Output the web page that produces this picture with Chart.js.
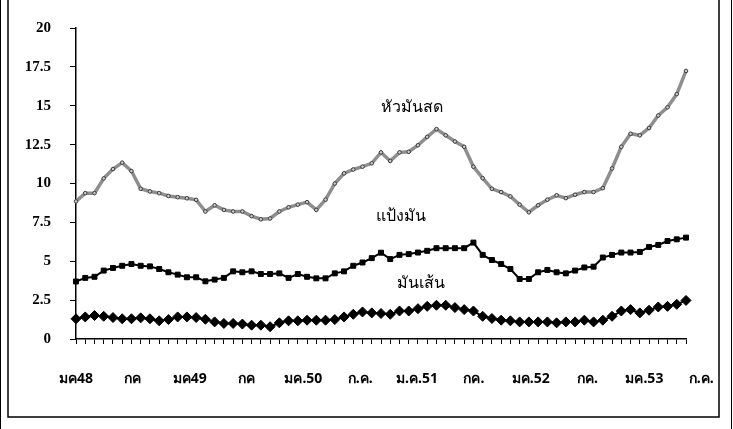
<!DOCTYPE html>
<html>
<head>
<meta charset="utf-8">
<script src="https://cdn.jsdelivr.net/npm/chart.js@4"></script>
<style>
  html, body { margin: 0; padding: 0; background: #fff; }
  #wrap { width: 733px; height: 429px; position: relative; }
</style>
</head>
<body>
<div id="wrap"><canvas id="cassava" width="733" height="429"></canvas></div>
<script>
// ราคามันสำปะหลัง รายเดือน มค48 - กค53
const thaiMonths = ['ม.ค.', 'ก.พ.', 'มี.ค.', 'เม.ย.', 'พ.ค.', 'มิ.ย.', 'ก.ค.', 'ส.ค.', 'ก.ย.', 'ต.ค.', 'พ.ย.', 'ธ.ค.'];
const years = ['48', '49', '50', '51', '52', '53'];
const months = years.flatMap(y => thaiMonths.map(m => m + y)).slice(0, 67);

const tickLabels = ['มค48', 'กค', 'มค49', 'กค', 'มค.50', 'ก.ค.', 'ม.ค.51', 'กค.', 'มค.52', 'กค.', 'มค.53', 'ก.ค.'];
const yTicks = ['0', '2.5', '5', '7.5', '10', '12.5', '15', '17.5', '20'];

const freshRoots = [
    8.85, 9.38, 9.38, 10.33, 10.93, 11.34, 10.8, 9.66, 9.49, 9.38,
    9.2, 9.12, 9.05, 8.95, 8.2, 8.6, 8.3, 8.2, 8.2, 7.9,
    7.7, 7.75, 8.2, 8.47, 8.64, 8.8, 8.3, 8.96, 10.0, 10.65,
    10.9, 11.08, 11.3, 12.0, 11.45, 12.0, 12.04, 12.46, 13.0, 13.5,
    13.1, 12.7, 12.36, 11.08, 10.34, 9.66, 9.45, 9.17, 8.64, 8.15,
    8.6, 8.96, 9.24, 9.06, 9.28, 9.45, 9.45, 9.7, 10.97, 12.36,
    13.2, 13.1, 13.57, 14.37, 14.9, 15.75, 17.24
];
const starch = [
    3.7, 3.93, 4.0, 4.4, 4.57, 4.71, 4.82, 4.71, 4.67, 4.5,
    4.29, 4.14, 3.97, 3.97, 3.71, 3.82, 3.93, 4.35, 4.29, 4.35,
    4.18, 4.18, 4.22, 3.93, 4.18, 4.0, 3.9, 3.9, 4.22, 4.35,
    4.71, 4.92, 5.2, 5.55, 5.14, 5.41, 5.46, 5.56, 5.67, 5.84,
    5.84, 5.84, 5.84, 6.2, 5.41, 5.08, 4.82, 4.5, 3.86, 3.86,
    4.29, 4.44, 4.29, 4.22, 4.4, 4.6, 4.65, 5.24, 5.41, 5.56,
    5.56, 5.6, 5.92, 6.05, 6.3, 6.41, 6.52
];
const chips = [
    1.3, 1.42, 1.51, 1.46, 1.38, 1.3, 1.3, 1.36, 1.3, 1.17,
    1.25, 1.42, 1.42, 1.38, 1.27, 1.1, 1.0, 1.0, 0.96, 0.89,
    0.89, 0.79, 1.04, 1.17, 1.17, 1.21, 1.21, 1.21, 1.25, 1.42,
    1.59, 1.74, 1.68, 1.64, 1.59, 1.8, 1.8, 1.95, 2.1, 2.17,
    2.17, 2.02, 1.89, 1.8, 1.46, 1.32, 1.21, 1.17, 1.1, 1.1,
    1.1, 1.1, 1.04, 1.1, 1.1, 1.21, 1.1, 1.21, 1.46, 1.8,
    1.89, 1.68, 1.85, 2.06, 2.1, 2.23, 2.48
];

// series name labels placed in data units (month index, value)
const seriesNames = ['หัวมันสด', 'แป้งมัน', 'มันเส้น'];
const namePos = [[36.3, 14.9], [35.2, 7.9], [37.3, 3.57]];
const labelStep = 6.15; // month labels were typed a bit wider than 6 months apart

const thaiFont = '"Noto Sans", "DejaVu Sans", sans-serif';
const serifFont = '"Liberation Serif", "DejaVu Serif", serif';

const seriesText = {
    id: 'seriesText',
    afterDatasetsDraw(chart) {
        const { ctx, scales } = chart;
        ctx.save();
        ctx.fillStyle = '#000';
        ctx.font = '16px ' + thaiFont;
        ctx.textAlign = 'center';
        ctx.textBaseline = 'middle';
        seriesNames.forEach((name, i) => {
            ctx.fillText(name, scales.x.getPixelForValue(namePos[i][0]), scales.y.getPixelForValue(namePos[i][1]));
        });
        ctx.restore();
    }
};

const frame = {
    id: 'frame',
    afterDraw(chart) {
        const ctx = chart.ctx;
        ctx.save();
        ctx.strokeStyle = '#000';
        ctx.lineWidth = 1.5;
        ctx.beginPath();
        ctx.moveTo(8, 0); ctx.lineTo(8, 417); ctx.lineTo(719, 417); ctx.lineTo(719, 0);
        ctx.stroke();
        ctx.lineWidth = 1;
        ctx.beginPath();
        ctx.moveTo(0.5, 0); ctx.lineTo(0.5, 429);
        ctx.moveTo(731.5, 0); ctx.lineTo(731.5, 429);
        ctx.stroke();
        ctx.restore();
    }
};

function noSidePadding(scale) {
    scale.paddingLeft = 0;
    scale.paddingRight = 0;
}

const ctx = document.getElementById('cassava').getContext('2d');
const chart = new Chart(ctx, {
    type: 'line',
    data: {
        labels: months,
        datasets: [
            {
                label: seriesNames[0],
                data: freshRoots,
                borderColor: '#8e8e8e',
                borderWidth: 3.5,
                pointStyle: 'circle',
                pointRadius: 1.8,
                pointBorderWidth: 1,
                pointBorderColor: '#3c3c3c',
                pointBackgroundColor: '#c8c8c8',
                tension: 0
            },
            {
                label: seriesNames[1],
                data: starch,
                borderColor: '#000',
                borderWidth: 2,
                pointStyle: 'rect',
                pointRadius: 3.5,
                pointBorderWidth: 1,
                pointBorderColor: '#000',
                pointBackgroundColor: '#000',
                tension: 0
            },
            {
                label: seriesNames[2],
                data: chips,
                borderColor: '#000',
                borderWidth: 2,
                pointStyle: 'rectRot',
                pointRadius: 5,
                pointBorderWidth: 1,
                pointBorderColor: '#000',
                pointBackgroundColor: '#000',
                tension: 0
            }
        ]
    },
    options: {
        responsive: false,
        animation: false,
        layout: { padding: { top: 25, right: 47, bottom: 34, left: 0 } },
        plugins: {
            legend: { display: false },
            tooltip: { enabled: false }
        },
        scales: {
            y: {
                min: 0,
                max: 20,
                afterBuildTicks: (scale) => {
                    scale.ticks = yTicks.map(t => ({ value: parseFloat(t) }));
                },
                afterFit: (scale) => { scale.width = 76; },
                border: { display: true, color: '#000', width: 1.5 },
                grid: { drawOnChartArea: false, drawTicks: true, tickLength: 6, color: '#000' },
                ticks: {
                    padding: 19,
                    color: '#000',
                    font: { family: serifFont, size: 15, weight: 'bold' },
                    callback: (v, i) => yTicks[i]
                }
            },
            x: {
                afterFit: (scale) => { scale.height = 6; noSidePadding(scale); },
                border: { display: true, color: '#000', width: 1.5 },
                grid: { drawOnChartArea: false, drawTicks: true, tickLength: 5, color: '#000' },
                ticks: { display: false, autoSkip: false }
            },
            x2: {
                type: 'linear',
                position: 'bottom',
                min: 0,
                max: months.length - 1,
                afterBuildTicks: (scale) => {
                    scale.ticks = tickLabels.map((t, k) => ({ value: k * labelStep }));
                },
                afterFit: (scale) => { scale.height = 50; noSidePadding(scale); },
                border: { display: false },
                grid: { display: false, drawTicks: false },
                ticks: {
                    padding: 26,
                    color: '#000',
                    autoSkip: false,
                    maxRotation: 0,
                    font: { family: thaiFont, size: 14, weight: 'bold' },
                    callback: (v, i) => tickLabels[i]
                }
            }
        }
    },
    plugins: [seriesText, frame]
});
</script>
</body>
</html>
